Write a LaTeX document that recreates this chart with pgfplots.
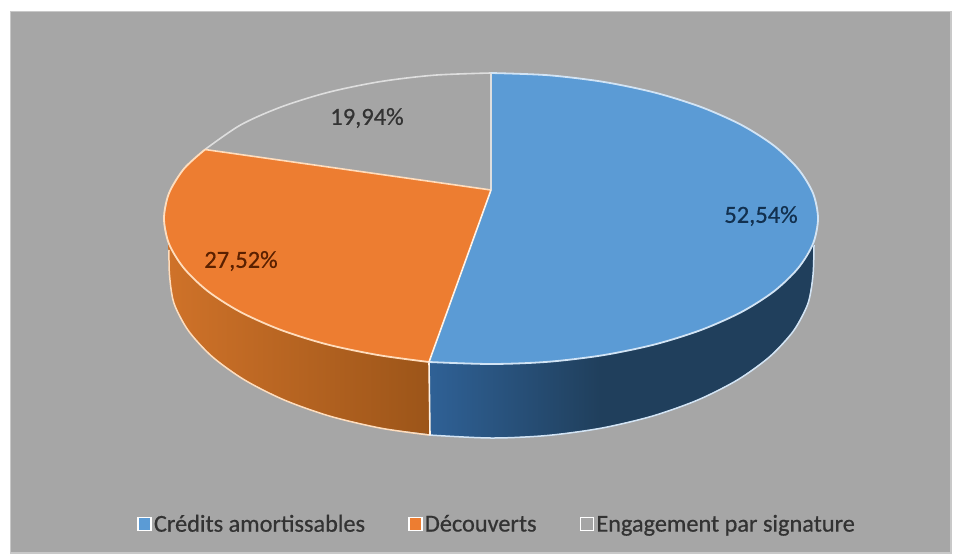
\documentclass[border=0pt]{standalone}
\usepackage{pgfplots}
\pgfplotsset{compat=1.18}
\usepackage{fontspec}
\setmainfont{Carlito}
\newfontfamily\heavy[FakeBold=0.6]{Carlito}
\definecolor{panel}{HTML}{A6A6A6}
\definecolor{paneledge}{HTML}{C8C8C8}
\definecolor{cblue}{HTML}{5B9BD5}
\definecolor{corange}{HTML}{ED7D31}
\definecolor{cgray}{HTML}{A5A5A5}
\definecolor{sblueL}{HTML}{2F6196}
\definecolor{sblueR}{HTML}{203F5C}
\definecolor{sorangeL}{HTML}{CF7229}
\definecolor{sorangeR}{HTML}{9C5519}
\definecolor{lblue}{HTML}{D2E4F5}
\definecolor{lorange}{HTML}{FFDDBD}
\definecolor{lgray}{HTML}{DEDEDE}
\definecolor{tblue}{HTML}{12304F}
\definecolor{torange}{HTML}{5A2000}
\definecolor{tdark}{HTML}{333333}
\begin{document}
\begin{tikzpicture}
\begin{axis}[
    scale only axis,
    width=957pt, height=553pt,
    xmin=0, xmax=957, ymin=0, ymax=553,
    y dir=reverse,
    hide axis,
    clip=false,
    legend columns=3,
    legend cell align=left,
    legend style={at={(axis cs:497,524)}, anchor=center, draw=none, fill=none,
        font=\fontsize{24.3}{26}\selectfont\color{tdark},
        /tikz/every even column/.append style={column sep=41pt},
        nodes={inner xsep=2pt}},
    legend image code/.code={
        \draw[draw=white, line width=1.8pt, #1] (0pt,-6.5pt) rectangle (13pt,6.5pt);
    },
]
    % page and panel
    \addplot[fill=white, draw=none, forget plot] coordinates {(0,0) (957,0) (957,553) (0,553)} -- cycle;
    \addplot[fill=panel, draw=paneledge, line width=1.5pt, forget plot] coordinates {(10.5,11.5) (951,11.5) (951,553) (10.5,553)} -- cycle;

    % side walls, the hidden parts run under the top slices
    \addplot[draw=none, left color=sorangeL, right color=sorangeR, forget plot] coordinates {
        (429,340) (429,434) (381,428.2) (330,416.2) (284,399.9) (244.3,379.8) (212,356.5)
        (188.4,330.7) (174,303.3) (169,275) (168,240) (300,250)} -- cycle;
    \addplot[draw=none, left color=sblueL, right color=sblueR, forget plot] coordinates {
        (429,340) (429,435) (435,435.5) (491,438) (547,435.5) (601,428.2) (601,340)} -- cycle;
    \addplot[draw=none, fill=sblueR, forget plot] coordinates {
        (600,340) (600,428.4) (652,416.2) (698,399.9) (737.7,379.8) (769.9,356.5)
        (793.6,330.7) (808,303.3) (813,275) (814,243) (700,300)} -- cycle;

    % outlines of the side walls
    \addplot[lorange, line width=1.5pt, smooth, forget plot] coordinates {
        (169,250) (169.5,275) (174,303.3) (188.4,330.7) (212,356.5) (244.3,379.8) (284,399.9)
        (330,416.2) (381,428.2) (429,435)};
    \addplot[lblue, line width=1.5pt, smooth, forget plot] coordinates {
        (429,435) (491,438) (547,435.5) (601,428.2) (652,416.2) (698,399.9) (737.7,379.8)
        (769.9,356.5) (793.6,330.7) (808,303.3) (813,275) (814,245)};
    \addplot[white!90!orange, line width=1.6pt, forget plot] coordinates {(429,362) (430,435)};

    % top slices
    \addplot[draw=none, fill=cblue] coordinates {
        (491,190) (491,73) (548,75.2) (603,81.8) (654.5,92.5) (701,107) (741.5,125) (774,145.7)
        (798,168.7) (813,193.2) (818,218.5) (813,243.8) (798,268.3) (774,291.3) (741.5,312)
        (701,330) (654.5,344.5) (603,355.2) (548,361.8) (491,364) (429,362)} -- cycle;
    \addlegendentry{\heavy Crédits amortissables}
    \addplot[draw=none, fill=corange] coordinates {
        (491,190) (429,362) (379,355.2) (327.5,344.5) (281,330) (240.5,312) (208,291.3)
        (184,268.3) (169,243.8) (164,218.5) (169,193.2) (184,168.7) (205,149.5)} -- cycle;
    \addlegendentry{\heavy Découverts}
    \addplot[draw=none, fill=cgray] coordinates {
        (491,190) (205,149.5) (208,145.7) (240.5,125) (281,107) (327.5,92.5) (379,81.8)
        (434,75.2) (491,73)} -- cycle;
    \addlegendentry{\heavy Engagement par signature}

    % outlines of the top
    \addplot[lgray, line width=1.6pt, forget plot] coordinates {(491,190) (491,73)};
    \addplot[lgray, line width=1.6pt, smooth, forget plot] coordinates {
        (205,149.5) (240.5,125) (281,107) (327.5,92.5) (379,81.8) (434,75.2) (491,73)};
    \addplot[lorange, line width=1.6pt, forget plot] coordinates {(491,190) (205,149.5)};
    \addplot[lorange, line width=1.8pt, smooth, forget plot] coordinates {
        (205,149.5) (184,168.7) (169,193.2) (164,218.5) (169,243.8) (184,268.3) (208,291.3)
        (240.5,312) (281,330) (327.5,344.5) (379,355.2) (429,362)};
    \addplot[lblue, line width=1.8pt, smooth, forget plot] coordinates {
        (491,73) (548,75.2) (603,81.8) (654.5,92.5) (701,107) (741.5,125) (774,145.7)
        (798,168.7) (813,193.2) (818,218.5) (813,243.8) (798,268.3) (774,291.3) (741.5,312)
        (701,330) (654.5,344.5) (603,355.2) (548,361.8) (491,364) (429,362)};
    \addplot[white!90!orange, line width=1.6pt, forget plot] coordinates {(491,190) (429,362)};

    % data labels
    \node[font=\fontsize{24.5}{26}\selectfont\heavy, text=tblue] at (axis cs:761,216) {52,54\%};
    \node[font=\fontsize{24.5}{26}\selectfont\heavy, text=tdark] at (axis cs:367,118) {19,94\%};
    \node[font=\fontsize{24.5}{26}\selectfont\heavy, text=torange] at (axis cs:241,261) {27,52\%};
\end{axis}
\end{tikzpicture}
\end{document}
